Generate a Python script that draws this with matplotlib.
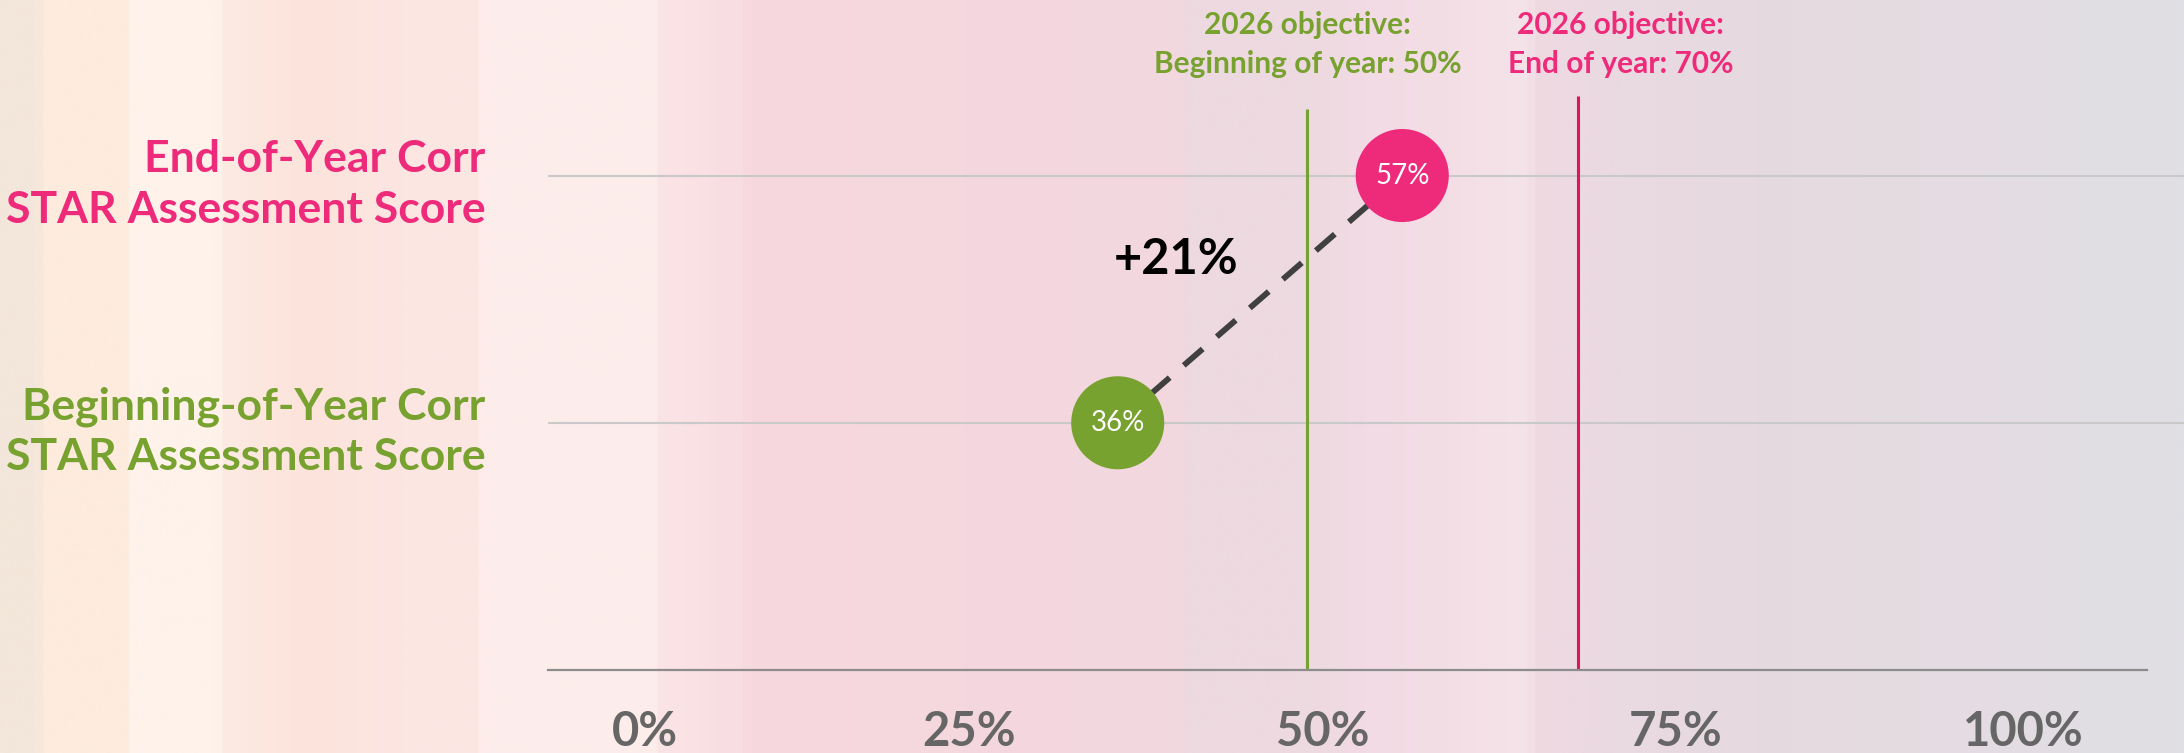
import numpy as np
import matplotlib
matplotlib.use("Agg")
import matplotlib.pyplot as plt
import matplotlib.transforms as mtransforms
from matplotlib.colors import LinearSegmentedColormap

# --- data -------------------------------------------------------------
categories = ["Beginning-of-Year Corr\nSTAR Assessment Score",
              "End-of-Year Corr\nSTAR Assessment Score"]
scores = [36, 57]
objectives = [50, 70]
objective_labels = ["2026 objective:\nBeginning of year: 50%",
                    "2026 objective:\nEnd of year: 70%"]
x_ticks = [0, 25, 50, 75, 100]
x_tick_labels = ["0%", "25%", "50%", "75%", "100%"]

# --- style ------------------------------------------------------------
GREEN = "#78A22F"
PINK = "#EE2A7B"
PINK_LINE = "#E0145E"
GREY_TXT = "#666666"
plt.rcParams['font.family'] = ['Lato', 'DejaVu Sans']

W, H = 2184, 753
fig = plt.figure(figsize=(W / 100, H / 100), dpi=100)

# background: soft vertical stripes, peach -> pink -> grey
bg = fig.add_axes([0, 0, 1, 1], zorder=0)
stops = [(0.000, "#F3E6DA"), (0.015, "#F3E6DA"), (0.017, "#FDEBDD"),
         (0.056, "#FDEBDD"), (0.058, "#FEF2EA"), (0.098, "#FEF2EA"),
         (0.100, "#FCEAE2"), (0.138, "#FDE4DC"), (0.184, "#FCE6E2"),
         (0.218, "#FCE6E2"), (0.220, "#FCEDEB"), (0.299, "#FCEDEB"),
         (0.301, "#FBE4E6"), (0.340, "#F8DDE2"), (0.342, "#F7D8DE"),
         (0.540, "#F3D7DF"), (0.545, "#EDD9E0"), (0.596, "#EDD9E0"),
         (0.625, "#F2DBE4"), (0.663, "#F4DEE6"), (0.700, "#F5E3EA"),
         (0.705, "#EFD9E2"), (0.745, "#EAD9E1"), (0.823, "#E5DAE0"),
         (0.912, "#E4DDE3"), (1.000, "#E0DFE4")]
cmap = LinearSegmentedColormap.from_list("bg", stops)
bg.imshow(np.linspace(0, 1, 1000)[None, :], cmap=cmap, aspect="auto",
          extent=[0, 1, 0, 1], interpolation="bilinear")
bg.set_axis_off()

# main axes: y=0 is the baseline
ax = fig.add_axes([548 / W, 83 / H, 1 - 548 / W, 670 / H], zorder=1)
ax.set_facecolor("none")
ax.set_xlim(-6.05, 114.7)
ax.set_ylim(0, 2.71)
cat_y = [1, 2]

# gridlines and baseline
ax.set_axisbelow(True)
ax.grid(axis="y", color="#C9C9C9", linewidth=1.5)
for side in ["top", "right", "left"]:
    ax.spines[side].set_visible(False)
ax.spines["bottom"].set_bounds(-6.05, 112)
ax.spines["bottom"].set_color("#8C8C8C")
ax.spines["bottom"].set_linewidth(1.6)

# ticks
ax.set_yticks(cat_y)
ax.set_yticklabels(categories, fontsize=32, fontweight="bold", linespacing=1.32)
for lbl, col in zip(ax.get_yticklabels(), [GREEN, PINK]):
    lbl.set_color(col)
ax.tick_params(axis="y", length=0, pad=45)
ax.set_xticks(x_ticks)
ax.set_xticklabels(x_tick_labels, fontsize=34, fontweight="bold", color=GREY_TXT)
ax.tick_params(axis="x", length=0, pad=29)
# the labels in the original sit a little right of their tick values
for lbl, dx in zip(ax.get_xticklabels(), [15, 0, 15, 30, 38]):
    lbl.set_transform(lbl.get_transform()
                      + mtransforms.ScaledTranslation(dx / 100, 0, fig.dpi_scale_trans))

# objective lines + labels
trans = mtransforms.blended_transform_factory(ax.transData, ax.transAxes)
ax.vlines(objectives[0], 0, 2.27, color=GREEN, linewidth=2.2, zorder=2)
ax.vlines(objectives[1], 0, 2.32, color=PINK_LINE, linewidth=2.2, zorder=2)
ax.text(objectives[0], 0.984, objective_labels[0], transform=trans, ha="center",
        va="top", fontsize=21.5, fontweight="bold", color=GREEN, linespacing=1.5)
ax.text(objectives[1] + 3.1, 0.984, objective_labels[1], transform=trans,
        ha="center", va="top", fontsize=21.5, fontweight="bold", color=PINK,
        linespacing=1.5)

# dumbbell
ax.plot(scores, cat_y, color="#404040", linewidth=4.2,
        linestyle=(0, (4.3, 3.2)), zorder=3)
ax.scatter(scores, cat_y, s=4489, c=[GREEN, PINK], linewidths=0, zorder=4)
for v, y in zip(scores, cat_y):
    ax.text(v, y, f"{v}%", ha="center", va="center", color="white",
            fontsize=20, zorder=5)

ax.text(40.3, 1.66, f"+{scores[1] - scores[0]}%", ha="center", va="center",
        fontsize=35, fontweight="bold", color="black", zorder=5)

fig.savefig("out.png", dpi=100)
